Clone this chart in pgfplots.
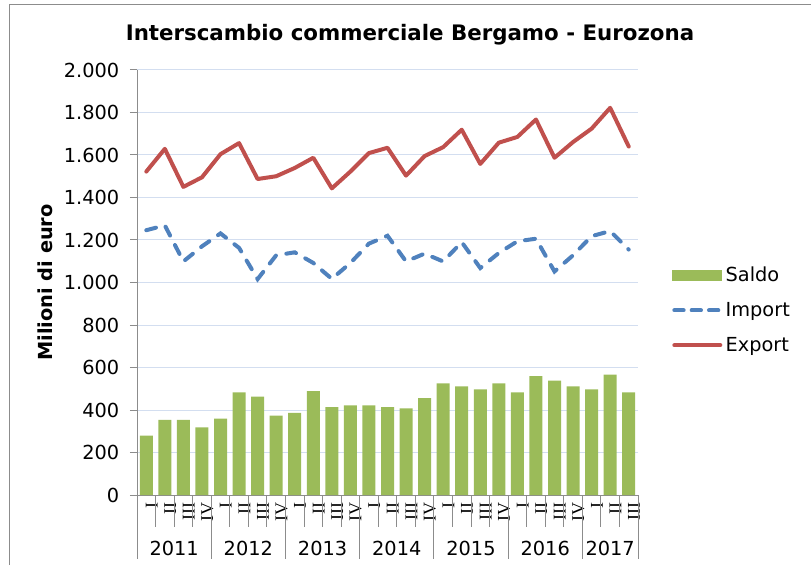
\documentclass[border=0pt]{standalone}
\usepackage{pgfplots}
\pgfplotsset{compat=1.18}
\usepackage{pgfplotstable}
\usepackage{fontspec}
\setmainfont{DejaVu Sans}
\newfontfamily\romanfont{Liberation Serif}
\definecolor{cSaldo}{HTML}{9BBB59}
\definecolor{cImport}{HTML}{4F81BD}
\definecolor{cExport}{HTML}{C0504D}
\definecolor{cGrid}{HTML}{D3DEF0}
\definecolor{cAxis}{HTML}{8C8C8C}
\pgfplotstableread{
x saldo import export
0 280 1246 1522
1 353 1269 1629
2 353 1099 1450
3 318 1170 1495
4 359 1231 1604
5 483 1163 1656
6 463 1016 1487
7 373 1128 1500
8 387 1142 1539
9 489 1092 1587
10 414 1017 1443
11 422 1092 1522
12 422 1183 1609
13 414 1220 1634
14 408 1099 1503
15 456 1136 1595
16 525 1099 1637
17 511 1190 1719
18 497 1068 1558
19 525 1139 1658
20 483 1194 1685
21 560 1206 1767
22 538 1052 1587
23 511 1128 1661
24 497 1218 1724
25 566 1242 1822
26 483 1155 1640
}\data
\begin{document}
\begin{tikzpicture}
\begin{scope}[x=0.75pt,y=0.75pt]
\useasboundingbox (0,0) rectangle (811,565);
\draw[cAxis,line width=0.75pt] (9,0) -- (9,560) -- (811,560);
\node[font=\fontsize{16}{19}\selectfont\bfseries] at (410,530) {Interscambio commerciale Bergamo - Eurozona};
\node[font=\fontsize{14.5}{17}\selectfont\bfseries,rotate=90] at (45,282.5) {Milioni di euro};
\end{scope}
\begin{axis}[
  at={(102.75pt,52.5pt)}, anchor=south west,
  scale only axis, width=375.75pt, height=318.75pt,
  xmin=-0.5, xmax=26.5, ymin=0, ymax=2000,
  axis lines*=left,
  axis line style={cAxis,line width=0.75pt},
  ytick={0,200,...,2000},
  ymajorgrids, grid style={cGrid,line width=0.75pt},
  tick align=outside, major tick length=5.25pt,
  ytick style={cAxis,line width=0.75pt},
  xtick={0,...,26},
  xtick style={draw=none},
  xticklabels={I,II,III,IV,I,II,III,IV,I,II,III,IV,I,II,III,IV,I,II,III,IV,I,II,III,IV,I,II,III},
  xticklabel style={rotate=90,anchor=east,font=\fontsize{13.5}{15}\selectfont\romanfont,inner sep=0pt,yshift=-4pt},
  yticklabel style={font=\fontsize{14.5}{17}\selectfont,xshift=-4.5pt},
  /pgf/number format/assume math mode=true,
  /pgf/number format/1000 sep={.},
  scaled y ticks=false,
  clip=false,
  legend style={at={(rel axis cs:1.06,0.548)},anchor=north west,draw=none,fill=none,
    font=\fontsize{14.5}{17}\selectfont,row sep=11pt,
    nodes={inner sep=1.5pt}},
  legend cell align=left,
]
\addplot[ybar,bar width=9.75pt,fill=cSaldo,draw=none,
  legend image code/.code={\fill[cSaldo] (0pt,-4pt) rectangle (37.5pt,4pt);}]
  table[x=x,y=saldo]{\data};
\addlegendentry{Saldo}
\addplot[cImport,line width=3pt,line cap=round,dash pattern=on 7.5pt off 8pt,
  legend image code/.code={\draw[cImport,line width=3pt,line cap=round,dash pattern=on 7pt off 6pt] (1.5pt,0pt) -- (37pt,0pt);}]
  table[x=x,y=import]{\data};
\addlegendentry{Import}
\addplot[cExport,line width=3pt,line cap=round,line join=round,
  legend image code/.code={\draw[cExport,line width=3pt,line cap=round] (1.5pt,0pt) -- (36pt,0pt);}]
  table[x=x,y=export]{\data};
\addlegendentry{Export}
\end{axis}
\begin{scope}[x=0.75pt,y=0.75pt]
\foreach \i in {1,2,3,5,6,7,9,10,11,13,14,15,17,18,19,21,22,23,25,26} {
  \draw[cAxis,line width=0.75pt] ({137+18.5556*\i},70) -- ({137+18.5556*\i},38);
}
\foreach \i in {0,4,8,12,16,20,24,27} {
  \draw[cAxis,line width=0.75pt] ({137+18.5556*\i},70) -- ({137+18.5556*\i},6);
}
\foreach \y/\c in {2011/0,2012/1,2013/2,2014/3,2015/4,2016/5} {
  \node[font=\fontsize{14.5}{17}\selectfont] at ({137+18.5556*(4*\c+2)},17) {\y};
}
\node[font=\fontsize{14.5}{17}\selectfont] at ({137+18.5556*25.5},17) {2017};
\end{scope}
\end{tikzpicture}
\end{document}
